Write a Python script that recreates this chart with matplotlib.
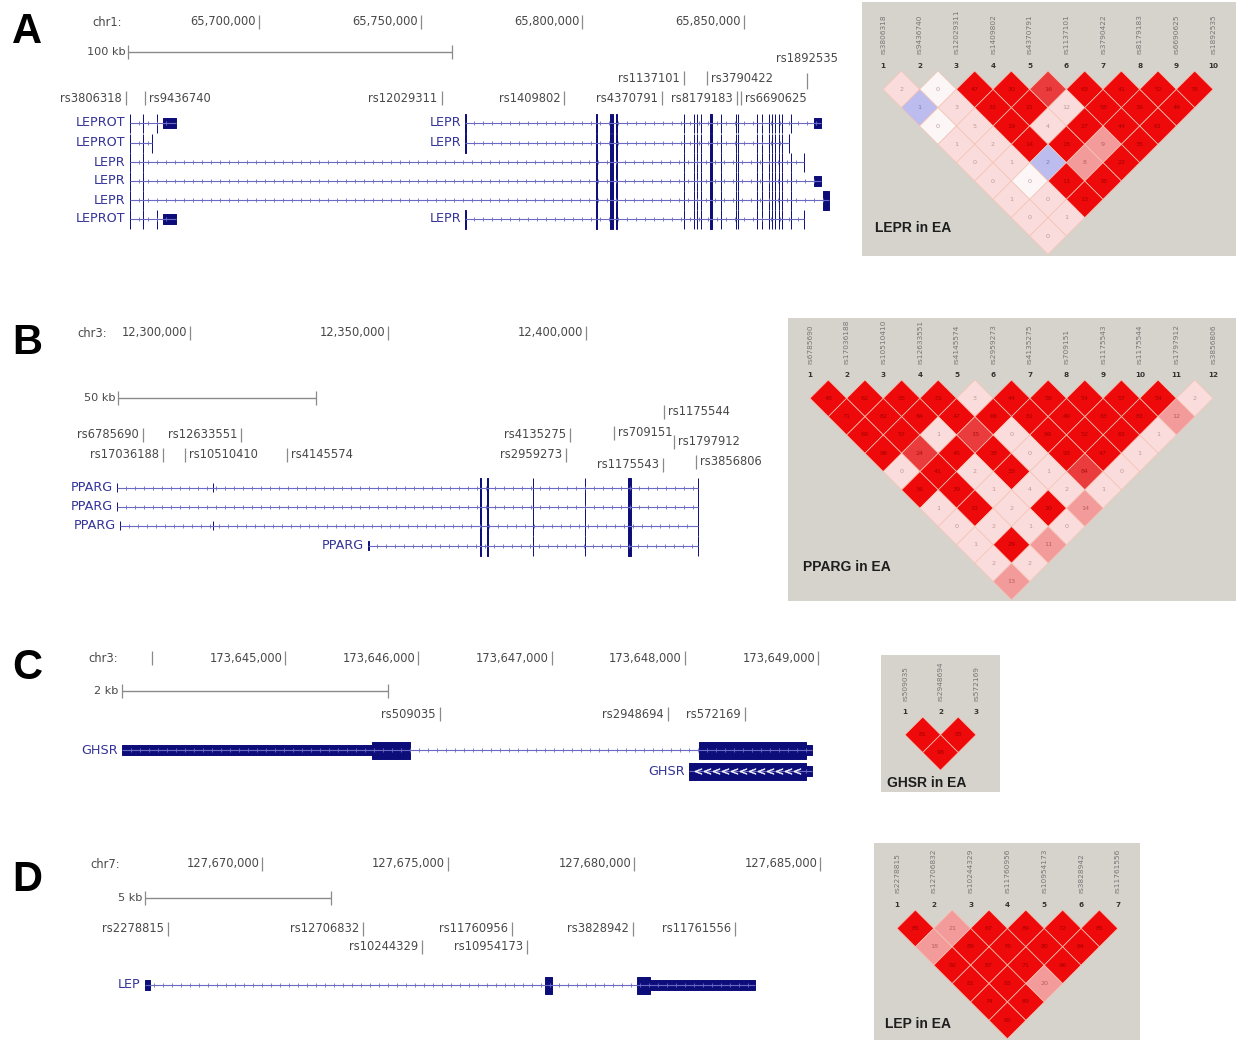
import numpy as np
import matplotlib
matplotlib.use("Agg")
import matplotlib.pyplot as plt
from matplotlib.collections import PolyCollection

# ======================= DATA =======================
# ---- Panel A: LEPROT / LEPR (chr1) ----
A_chrom = "chr1:"
A_ruler_pos = [65700000, 65750000, 65800000, 65850000]
A_ruler_lab = ["65,700,000", "65,750,000", "65,800,000", "65,850,000"]
A_scale_lab = "100 kb"
A_scale_bp = 100000
A_snp_names = ["rs3806318", "rs9436740", "rs12029311", "rs1409802", "rs4370791",
               "rs1137101", "rs3790422", "rs8179183", "rs6690625", "rs1892535"]
A_snp_pos = [65658950, 65664800, 65756500, 65794450, 65824700,
             65831500, 65838600, 65847850, 65849100, 65869450]
A_lepr_core = [(65804250, 65804400, 'c'), (65808570, 65808720, 'c'), (65809190, 65809340, 'c'),
               (65810420, 65810570, 'c'), (65831410, 65831560, 'c'), (65834500, 65834650, 'c'),
               (65835420, 65835570, 'c'), (65836650, 65836800, 'c'), (65839450, 65840200, 'c'),
               (65842830, 65842980, 'c'), (65847460, 65847610, 'c'), (65848080, 65848230, 'c'),
               (65853940, 65854090, 'c'), (65855480, 65855630, 'c'), (65857640, 65857790, 'c'),
               (65858570, 65858720, 'c'), (65859490, 65859640, 'c'), (65860730, 65860880, 'c'),
               (65861650, 65861800, 'c'), (65864430, 65864580, 'c')]
A_leprot_head = [(65660050, 65660250, 'c'), (65664100, 65664250, 'c')]
A_tx_names = ["LEPROT", "LEPROT", "LEPR", "LEPR", "LEPR", "LEPROT", "LEPR", "LEPR", "LEPR"]
A_tx_start = [65660050, 65660050, 65660050, 65660050, 65660050, 65660050, 65763800, 65763800, 65763800]
A_tx_end = [65674380, 65667050, 65868600, 65873770, 65876200, 65674380, 65873770, 65864000, 65868600]
A_tx_exons = [
    A_leprot_head + [(65668400, 65668550, 'c'), (65670370, 65674380, 'u')],
    A_leprot_head + [(65666900, 65667050, 'c')],
    A_leprot_head + A_lepr_core + [(65868450, 65868600, 'c')],
    A_leprot_head + A_lepr_core + [(65871600, 65873770, 'u')],
    A_leprot_head + A_lepr_core + [(65874400, 65876200, 'c')],
    A_leprot_head + [(65668400, 65668550, 'c'), (65670370, 65674380, 'u')],
    [(65763800, 65763950, 'c')] + A_lepr_core + [(65871600, 65873770, 'u')],
    [(65763800, 65763950, 'c')] + A_lepr_core + [(65863850, 65864000, 'c')],
    [(65763800, 65763950, 'c')] + A_lepr_core + [(65868450, 65868600, 'c')],
]
A_ld_code = ["lwRRmRRRR", "blRRlRRR", "wlRlRRR", "llRRsR", "llbsR", "lwRR", "llR", "ll", "l"]
A_ld_r2 = [[2, 0, 47, 30, 16, 63, 41, 52, 78],
           [1, 3, 33, 21, 12, 58, 36, 49],
           [0, 5, 19, 4, 27, 44, 61],
           [1, 2, 14, 18, 9, 35],
           [0, 1, 2, 8, 22],
           [0, 0, 11, 78],
           [1, 0, 13],
           [0, 1],
           [0]]
A_ld_title = "LEPR in EA"

# ---- Panel B: PPARG (chr3) ----
B_chrom = "chr3:"
B_ruler_pos = [12300000, 12350000, 12400000]
B_ruler_lab = ["12,300,000", "12,350,000", "12,400,000"]
B_scale_lab = "50 kb"
B_scale_bp = 50000
B_snp_names = ["rs6785690", "rs17036188", "rs10510410", "rs12633551", "rs4145574", "rs2959273",
               "rs4135275", "rs709151", "rs1175543", "rs1175544", "rs1797912", "rs3856806"]
B_snp_pos = [12288100, 12293170, 12298730, 12312910, 12324560, 12394940,
             12395950, 12407090, 12419400, 12419650, 12422280, 12427850]
B_pparg_core = [(12373350, 12373500, 'c'), (12375100, 12375250, 'c'), (12386500, 12386650, 'c'),
                (12399650, 12399800, 'c'), (12410600, 12411300, 'c'), (12428250, 12428400, 'c')]
B_tx_names = ["PPARG", "PPARG", "PPARG", "PPARG"]
B_tx_start = [12281450, 12281450, 12282250, 12345000]
B_tx_end = [12428400, 12428400, 12428400, 12428400]
B_tx_exons = [
    [(12281450, 12281600, 'u'), (12305750, 12305900, 'u')] + B_pparg_core,
    [(12281450, 12281600, 'u')] + B_pparg_core,
    [(12282250, 12282400, 'u'), (12305750, 12305900, 'u')] + B_pparg_core,
    [(12345000, 12345150, 'u')] + B_pparg_core,
]
B_ld_code = ["RRRRlRRRRRl", "RRRRRRRRRs", "RRlmlRRRl", "RmRRlRRl", "lRlRlml",
             "RRllll", "lRlRs", "llll", "lRs", "ll", "s"]
B_ld_r2 = [[48, 62, 55, 51, 3, 44, 58, 54, 57, 54, 2],
           [71, 82, 84, 47, 66, 81, 49, 83, 83, 12],
           [69, 57, 1, 15, 0, 99, 52, 83, 1],
           [96, 24, 45, 38, 0, 93, 47, 1],
           [0, 41, 2, 33, 1, 84, 0],
           [36, 39, 1, 4, 2, 1],
           [1, 33, 2, 30, 14],
           [0, 2, 1, 0],
           [1, 29, 11],
           [2, 2],
           [13]]
B_ld_title = "PPARG in EA"

# ---- Panel C: GHSR (chr3) ----
C_chrom = "chr3:"
C_ruler_pos = [173644000, 173645000, 173646000, 173647000, 173648000, 173649000]
C_ruler_lab = ["", "173,645,000", "173,646,000", "173,647,000", "173,648,000", "173,649,000"]
C_scale_lab = "2 kb"
C_scale_bp = 2000
C_snp_names = ["rs509035", "rs2948694", "rs572169"]
C_snp_pos = [173646165, 173647872, 173648451]
C_tx_names = ["GHSR", "GHSR"]
C_tx_start = [173643774, 173648030]
C_tx_end = [173648955, 173648955]
C_tx_exons = [
    [(173643774, 173645654, 'u'), (173645654, 173645940, 'c'),
     (173648105, 173648910, 'c'), (173648910, 173648955, 'u')],
    [(173648030, 173648910, 'c'), (173648910, 173648955, 'u')],
]
C_ld_code = ["RR", "R"]
C_ld_r2 = [[81, 88], [98]]
C_ld_title = "GHSR in EA"

# ---- Panel D: LEP (chr7) ----
D_chrom = "chr7:"
D_ruler_pos = [127670000, 127675000, 127680000, 127685000]
D_ruler_lab = ["127,670,000", "127,675,000", "127,680,000", "127,685,000"]
D_scale_lab = "5 kb"
D_scale_bp = 5000
D_snp_names = ["rs2278815", "rs12706832", "rs10244329", "rs11760956",
               "rs10954173", "rs3828942", "rs11761556"]
D_snp_pos = [127667470, 127672715, 127674300, 127676720, 127677125, 127679970, 127682715]
D_tx_names = ["LEP"]
D_tx_start = [127666850]
D_tx_end = [127683252]
D_tx_exons = [[(127666850, 127667000, 'u'), (127677607, 127677795, 'c'),
               (127680080, 127680430, 'c'), (127680430, 127683252, 'u')]]
D_ld_code = ["RsRRRR", "sRRRR", "RRRR", "RRs", "RR", "R"]
D_ld_r2 = [[85, 21, 67, 89, 72, 85],
           [18, 89, 76, 80, 84],
           [92, 87, 71, 96],
           [81, 83, 20],
           [74, 89],
           [85]]
D_ld_title = "LEP in EA"

# ======================= LAYOUT / STYLE =======================
W, H = 1238, 1041
EXON = "#0d0d7a"
INTRON = "#6a6ac4"
GENE_TXT = "#34349a"
TXT = "#484848"
TICK = "#8a8a8a"
BG = "#d6d3cc"
LD_COLORS = {'R': '#ee0a0a', 'm': '#ea3c3c', 's': '#f39a9a', 'l': '#fadcdc',
             'w': '#fcf6f6', 'b': '#bcbcee'}
LD_NUM = {'R': '#a80000', 'm': '#b01010', 's': '#b86060', 'l': '#c09a9a',
          'w': '#c0a0a0', 'b': '#8080b0'}
BOLD = ["Liberation Sans", "DejaVu Sans"]
FS_TXT = 8.3

A_lay = dict(box=(0, 0, 860, 262), cal=((65700000, 259), (65850000, 744)), letter=(27, 32),
             chrom_xy=(92, 22), ruler_y=22, scale_x=65659570, scale_y=52,
             snp_y=[98, 98, 98, 98, 98, 78, 78, 98, 98, 59],
             snp_side=['L', 'R', 'L', 'L', 'L', 'L', 'R', 'L', 'R', 'C'],
             tx_y=[123, 143, 162, 181, 200, 219, 123, 143, 219], hc=19, hu=10,
             chev_in=[False] * 9)
B_lay = dict(box=(0, 310, 860, 570), cal=((12300000, 190), (12400000, 586)), letter=(27, 343),
             chrom_xy=(77, 333), ruler_y=333, scale_x=12281772, scale_y=398,
             snp_y=[435, 455, 455, 435, 455, 455, 435, 433, 465, 412, 442, 462],
             snp_side=['L', 'L', 'R', 'L', 'R', 'L', 'L', 'R', 'L', 'R', 'R', 'R'],
             tx_y=[488, 507, 526, 546], hc=20, hu=9, chev_in=[False] * 4)
C_lay = dict(box=(0, 640, 860, 790), cal=((173645000, 285), (173649000, 818)), letter=(27, 668),
             chrom_xy=(88, 658), ruler_y=658, scale_x=173643774, scale_y=691,
             snp_y=[714, 714, 714], snp_side=['L', 'L', 'L'],
             tx_y=[750, 771], hc=17, hu=10, chev_in=[False, True])
D_lay = dict(box=(0, 845, 860, 1005), cal=((127670000, 262), (127685000, 820)), letter=(27, 880),
             chrom_xy=(90, 864), ruler_y=864, scale_x=127666855, scale_y=898,
             snp_y=[929, 929, 947, 929, 947, 929, 929], snp_side=['L'] * 7,
             tx_y=[985], hc=17, hu=10, chev_in=[False])

A_ld_lay = dict(box=(862, 2, 1236, 256), x0=883, sp=36.67, ytop=71, title=(875, 228))
B_ld_lay = dict(box=(788, 318, 1236, 601), x0=810, sp=36.64, ytop=380, title=(803, 567))
C_ld_lay = dict(box=(881, 655, 1000, 792), x0=905, sp=35.5, ytop=717, title=(887, 783))
D_ld_lay = dict(box=(874, 843, 1140, 1040), x0=897, sp=36.8, ytop=910, title=(885, 1024))

fig = plt.figure(figsize=(W / 100, H / 100), dpi=100)
fig.patch.set_facecolor("white")


def px_box(x0, y0, x1, y1):
    return [x0 / W, 1 - y1 / H, (x1 - x0) / W, (y1 - y0) / H]


def ftext(x, y, s, **kw):
    fig.text(x / W, 1 - y / H, s, **kw)


def gene_panel(chrom, ruler_pos, ruler_lab, scale_lab, scale_bp, snp_names, snp_pos,
               tx_names, tx_start, tx_end, tx_exons, letter, lay):
    (p1, x1), (p2, x2) = lay['cal']
    bpp = (p2 - p1) / (x2 - x1)
    bx0, by0, bx1, by1 = lay['box']
    ax = fig.add_axes(px_box(bx0, by0, bx1, by1))
    ax.set_xlim(p1 + (bx0 - x1) * bpp, p1 + (bx1 - x1) * bpp)
    ax.set_ylim(by1, by0)
    ax.axis('off')

    ftext(*lay['letter'], letter, fontsize=30, fontweight='bold', family=BOLD,
          ha='center', va='center', color='black')
    ftext(*lay['chrom_xy'], chrom, fontsize=FS_TXT, ha='left', va='center', color=TXT)

    # ruler
    ry = lay['ruler_y']
    ax.vlines(ruler_pos, ry - 7, ry + 7, color=TICK, lw=0.9)
    for p, lab in zip(ruler_pos, ruler_lab):
        if lab:
            ax.annotate(lab, (p, ry), xytext=(-2, 0), textcoords='offset points',
                        ha='right', va='center', fontsize=FS_TXT, color=TXT)
    # scale bar
    sx, sy = lay['scale_x'], lay['scale_y']
    ax.hlines(sy, sx, sx + scale_bp, color=TICK, lw=1.0)
    ax.vlines([sx, sx + scale_bp], sy - 7, sy + 7, color=TICK, lw=0.9)
    ax.annotate(scale_lab, (sx, sy), xytext=(-2, 0), textcoords='offset points',
                ha='right', va='center', fontsize=FS_TXT - 0.2, color=TXT)

    # SNPs
    for nm, p, ly, side in zip(snp_names, snp_pos, lay['snp_y'], lay['snp_side']):
        if side == 'C':
            ax.vlines(p, ly + 14, ly + 30, color=TICK, lw=0.9)
            ax.text(p, ly, nm, ha='center', va='center', fontsize=FS_TXT, color=TXT)
        else:
            ax.vlines(p, ly - 7, ly + 7, color=TICK, lw=0.9)
            off = -3 if side == 'L' else 3
            ax.annotate(nm, (p, ly), xytext=(off, 0), textcoords='offset points',
                        ha='right' if side == 'L' else 'left', va='center',
                        fontsize=FS_TXT, color=TXT)

    # transcripts
    step = 9 * bpp
    for nm, s, e, exons, y, chin in zip(tx_names, tx_start, tx_end, tx_exons,
                                          lay['tx_y'], lay['chev_in']):
        ax.hlines(y, s, e, color=INTRON, lw=0.8)
        marks = np.arange(s + step, e - step / 2, step)
        ax.plot(marks, np.full(len(marks), y), ls='none', marker='|', ms=3.2,
                mew=0.6, color=INTRON)
        for es, ee, k in exons:
            if es < s - 1 or ee > e + 1:
                continue
            h = lay['hc'] if k == 'c' else lay['hu']
            ax.broken_barh([(es, ee - es)], (y - h / 2, h), facecolors=EXON,
                           edgecolors=EXON, linewidth=0.7)
            if chin and k == 'c':
                cm = np.arange(es + step, ee - step / 2, step)
                ax.plot(cm, np.full(len(cm), y), ls='none', marker=r'$<$', ms=5,
                        color='white', mew=0.3)
        ax.annotate(nm, (s, y), xytext=(-3, 0), textcoords='offset points',
                    ha='right', va='center', fontsize=9.2, color=GENE_TXT)
    return ax


def ld_panel(names, codes, r2, title, lay):
    bx0, by0, bx1, by1 = lay['box']
    x0, sp, ytop = lay['x0'], lay['sp'], lay['ytop']
    ax = fig.add_axes(px_box(bx0, by0, bx1, by1))
    ax.set_xlim((bx0 - x0) / sp, (bx1 - x0) / sp)
    ax.set_ylim((by1 - ytop) / sp, (by0 - ytop) / sp)
    ax.set_facecolor(BG)
    for sp_ in ax.spines.values():
        sp_.set_visible(False)
    ax.set_xticks([])
    ax.set_yticks([])
    polys, cols = [], []
    for d, (rc, rv) in enumerate(zip(codes, r2), start=1):
        for i, (c, v) in enumerate(zip(rc, rv)):
            j = i + d
            cx, cy = (i + j) / 2, d / 2
            polys.append([(cx - 0.5, cy), (cx, cy - 0.5), (cx + 0.5, cy), (cx, cy + 0.5)])
            cols.append(LD_COLORS[c])
            ax.text(cx, cy, str(v), ha='center', va='center', fontsize=4.6,
                    color=LD_NUM[c], zorder=3)
    ax.add_collection(PolyCollection(polys, facecolors=cols, edgecolors='#f6c4b4',
                                     linewidths=0.5, zorder=2))
    for k, nm in enumerate(names):
        ax.text(k, -0.13, str(k + 1), ha='center', va='center', fontsize=5.2,
                fontweight='bold', color='#333333')
        ax.text(k, -0.45, nm, rotation=90, ha='center', va='bottom', fontsize=5.3,
                color='#767676')
    ftext(*lay['title'], title, fontsize=10, fontweight='bold', family=BOLD,
          ha='left', va='center', color='#1e1e1e')
    return ax


gene_panel(A_chrom, A_ruler_pos, A_ruler_lab, A_scale_lab, A_scale_bp, A_snp_names, A_snp_pos,
           A_tx_names, A_tx_start, A_tx_end, A_tx_exons, "A", A_lay)
gene_panel(B_chrom, B_ruler_pos, B_ruler_lab, B_scale_lab, B_scale_bp, B_snp_names, B_snp_pos,
           B_tx_names, B_tx_start, B_tx_end, B_tx_exons, "B", B_lay)
gene_panel(C_chrom, C_ruler_pos, C_ruler_lab, C_scale_lab, C_scale_bp, C_snp_names, C_snp_pos,
           C_tx_names, C_tx_start, C_tx_end, C_tx_exons, "C", C_lay)
gene_panel(D_chrom, D_ruler_pos, D_ruler_lab, D_scale_lab, D_scale_bp, D_snp_names, D_snp_pos,
           D_tx_names, D_tx_start, D_tx_end, D_tx_exons, "D", D_lay)

ld_panel(A_snp_names, A_ld_code, A_ld_r2, A_ld_title, A_ld_lay)
ld_panel(B_snp_names, B_ld_code, B_ld_r2, B_ld_title, B_ld_lay)
ld_panel(C_snp_names, C_ld_code, C_ld_r2, C_ld_title, C_ld_lay)
ld_panel(D_snp_names, D_ld_code, D_ld_r2, D_ld_title, D_ld_lay)

fig.savefig("out.png", dpi=100, facecolor="white")
